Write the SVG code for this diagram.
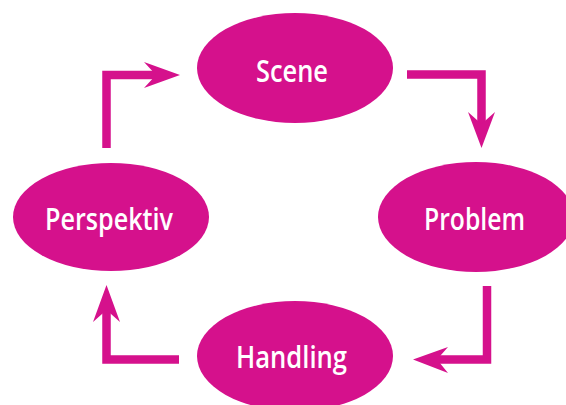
<svg xmlns="http://www.w3.org/2000/svg" width="566" height="405" viewBox="0 0 566 405">
<style>
.node{fill:#d5118c}
.lbl{fill:#ffffff;font-family:"Open Sans","Noto Sans",sans-serif;font-size:30px;font-weight:600;text-anchor:middle}
.ln{fill:none;stroke:#d5118c;stroke-width:8.5;stroke-linejoin:miter}
.hd{fill:#d5118c}
</style>
<rect width="566" height="405" fill="#ffffff"/>
<g id="connectors">
<polyline class="ln" points="106.5,148 106.5,75 158,75"/>
<polygon class="hd" points="180,75 144,62 156,75 144,88"/>
<polyline class="ln" points="407,74.5 481.5,74.5 481.5,126"/>
<polygon class="hd" points="481.5,148 468,112 481.5,124 495,112"/>
<polyline class="ln" points="487,286 487,359.5 435,359.5"/>
<polygon class="hd" points="413,359.5 448,347 437,359.5 448,373"/>
<polyline class="ln" points="179,359.5 106.5,359.5 106.5,308"/>
<polygon class="hd" points="106.5,285 93,322 106.5,310 120,322"/>
</g>
<g id="scene">
<ellipse class="node" cx="295" cy="68" rx="98" ry="55"/>
<text class="lbl" x="292" y="82" textLength="72" lengthAdjust="spacingAndGlyphs">Scene</text>
</g>
<g id="problem">
<ellipse class="node" cx="476" cy="217" rx="98" ry="55"/>
<text class="lbl" x="474.5" y="230" textLength="101" lengthAdjust="spacingAndGlyphs">Problem</text>
</g>
<g id="handling">
<ellipse class="node" cx="295" cy="356" rx="98" ry="55"/>
<text class="lbl" x="291.5" y="368" textLength="111" lengthAdjust="spacingAndGlyphs">Handling</text>
</g>
<g id="perspektiv">
<ellipse class="node" cx="111" cy="217" rx="98" ry="54"/>
<text class="lbl" x="109" y="230" textLength="128" lengthAdjust="spacingAndGlyphs">Perspektiv</text>
</g>
</svg>
